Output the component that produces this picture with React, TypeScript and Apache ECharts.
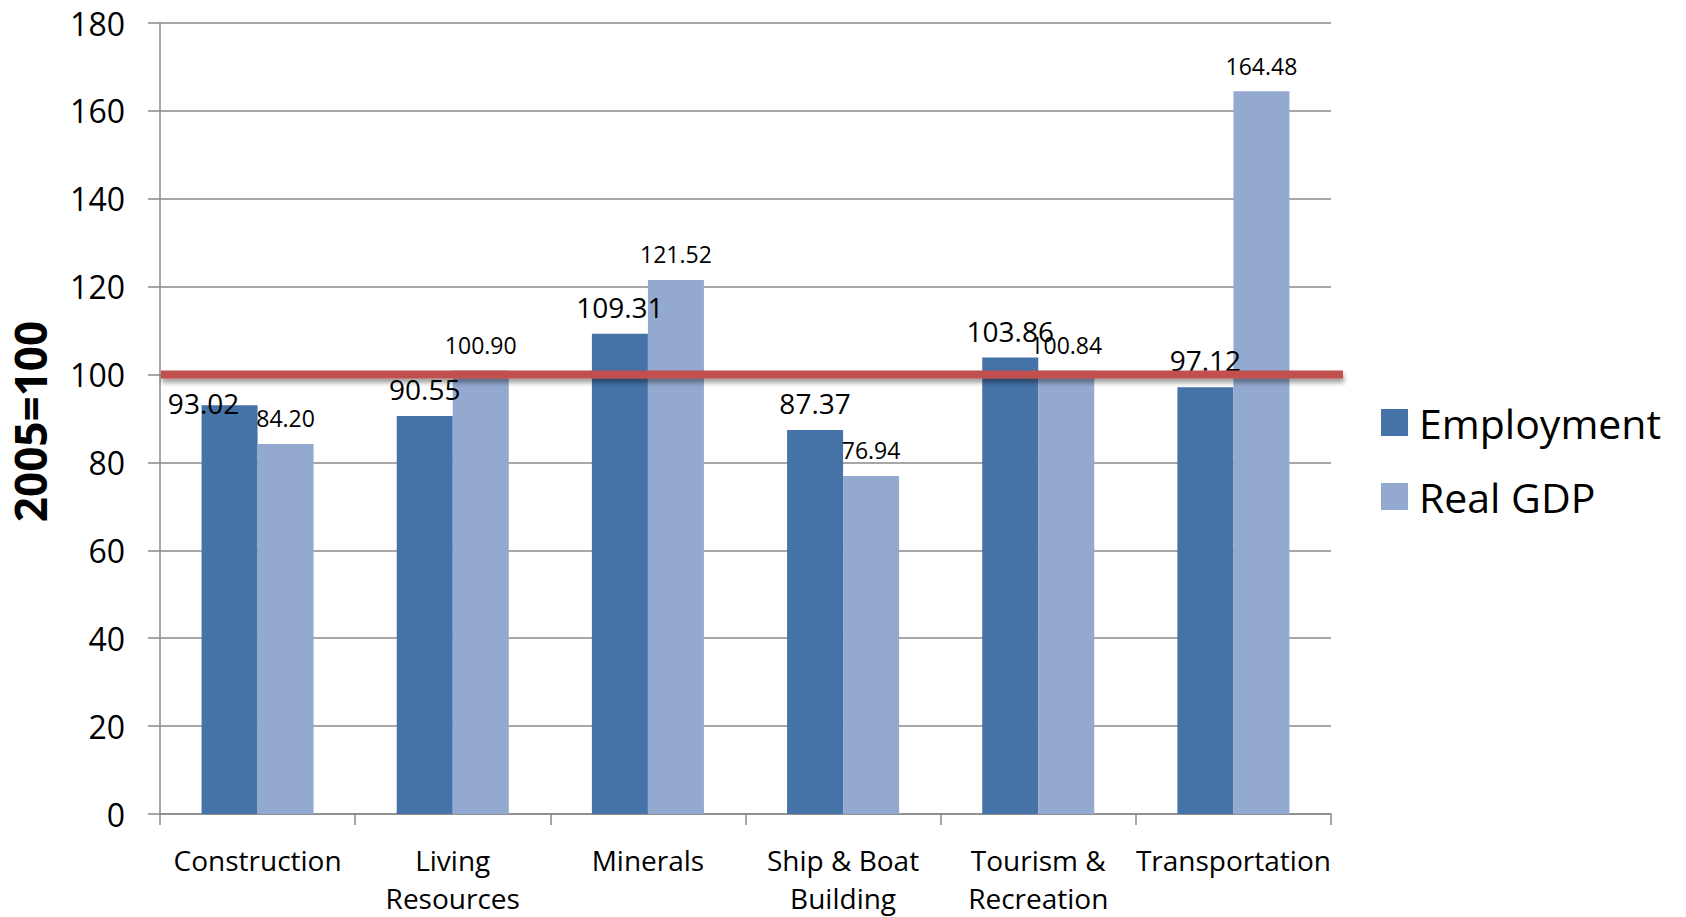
import React, { useEffect, useRef } from "react";
import * as echarts from "echarts";

// Ocean economy sectors, indexed to 2005 = 100
const categories = [
  "Construction",
  "Living\nResources",
  "Minerals",
  "Ship & Boat\nBuilding",
  "Tourism &\nRecreation",
  "Transportation",
];
const employment = [93.02, 90.55, 109.31, 87.37, 103.86, 97.12];
const realGdp = [84.2, 100.9, 121.52, 76.94, 100.84, 164.48];
const baseline = 100;
const yTicks = { min: 0, max: 180, interval: 20 };

const FONT = "'Open Sans', 'Noto Sans', sans-serif";
const GRID = { left: 158, right: 355, top: 23, bottom: 95 };
const WIDTH = 1686;
const HEIGHT = 917;

export default function App() {
  const ref = useRef<HTMLDivElement>(null);

  useEffect(() => {
    if (!ref.current) return;
    const chart = echarts.init(ref.current, undefined, { renderer: "svg" });

    const employmentData = employment.map((v, i) =>
      i === 0 ? { value: v, label: { offset: [-26, 25] } } : { value: v }
    );

    chart.setOption({
      animation: false,
      backgroundColor: "#ffffff",
      textStyle: { fontFamily: FONT },
      grid: GRID,
      legend: {
        orient: "vertical",
        left: 1376,
        top: 397,
        itemWidth: 27,
        itemHeight: 27,
        itemGap: 33,
        icon: "rect",
        textStyle: {
          fontFamily: FONT,
          fontSize: 41,
          color: "#000",
          padding: [0, 0, 0, 6],
        },
        data: ["Employment", "Real GDP"],
      },
      xAxis: {
        type: "category",
        data: categories,
        axisLine: { lineStyle: { color: "#8a8a8a", width: 1.5 } },
        axisTick: { show: true, length: 11, lineStyle: { color: "#8a8a8a", width: 1.5 } },
        axisLabel: {
          color: "#000",
          fontFamily: FONT,
          fontSize: 28,
          lineHeight: 38,
          margin: 27,
          interval: 0,
        },
      },
      yAxis: {
        type: "value",
        min: yTicks.min,
        max: yTicks.max,
        interval: yTicks.interval,
        name: "2005=100",
        nameLocation: "middle",
        nameRotate: 90,
        nameGap: 108,
        nameTextStyle: {
          fontFamily: FONT,
          fontSize: 44,
          fontWeight: "bold",
          color: "#000",
          padding: [0, 6, 0, 0],
        },
        axisLine: { show: true, lineStyle: { color: "#8a8a8a", width: 1.5 } },
        axisTick: { show: true, length: 12, lineStyle: { color: "#8a8a8a", width: 1.5 } },
        splitLine: { lineStyle: { color: "#8a8a8a", width: 1.5 } },
        axisLabel: {
          color: "#000",
          fontFamily: FONT,
          fontSize: 32,
          margin: 35,
        },
      },
      series: [
        {
          name: "Employment",
          type: "bar",
          data: employmentData,
          barGap: "0%",
          barCategoryGap: "42.6%",
          itemStyle: { color: "#4572A7" },
          label: {
            show: true,
            position: "top",
            distance: 13,
            color: "#000",
            fontFamily: FONT,
            fontSize: 28,
            formatter: (p: any) => Number(p.value).toFixed(2),
          },
        },
        {
          name: "Real GDP",
          type: "bar",
          data: realGdp,
          barGap: "0%",
          barCategoryGap: "42.6%",
          itemStyle: { color: "#94A9D0" },
          label: {
            show: true,
            position: "top",
            distance: 14,
            color: "#000",
            fontFamily: FONT,
            fontSize: 23,
            formatter: (p: any) => Number(p.value).toFixed(2),
          },
        },
      ],
    });

    // Red reference line at the 2005 baseline, placed through the y scale,
    // running slightly past the right edge of the plot with a soft drop shadow.
    const yBase = chart.convertToPixel({ yAxisIndex: 0 }, baseline) as number;
    const lineH = 8;
    const x0 = GRID.left + 3;
    const x1 = WIDTH - GRID.right + 12;
    chart.setOption({
      graphic: [
        {
          type: "rect",
          silent: true,
          z: 100,
          shape: { x: x0, y: yBase - lineH / 2, width: x1 - x0, height: lineH },
          style: {
            fill: "#C0504D",
            shadowColor: "rgba(0,0,0,0.4)",
            shadowBlur: 5,
            shadowOffsetX: 1,
            shadowOffsetY: 4,
          },
        },
      ],
    });

    return () => chart.dispose();
  }, []);

  return (
    <div
      ref={ref}
      style={{ position: "absolute", left: 0, top: 0, width: WIDTH, height: HEIGHT }}
    />
  );
}
